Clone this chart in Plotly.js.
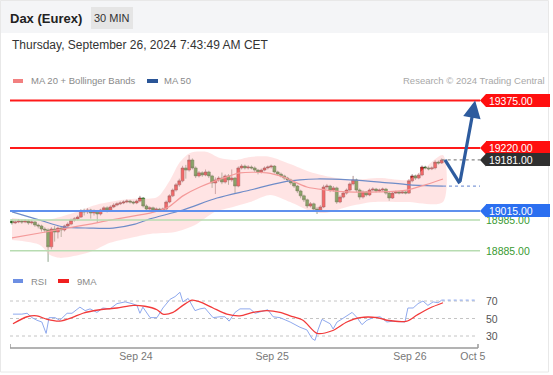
<!DOCTYPE html>
<html><head><meta charset="utf-8">
<script src="https://cdn.plot.ly/plotly-3.0.1.min.js"></script>
<style>html,body{margin:0;padding:0;background:#fff;overflow:hidden}#chart{width:553px;height:375px}</style>
</head><body><div id="chart"></div>
<script>
// ---------- DATA ----------
const openP = [18982,18976,18979,18982,18979,18982,18976,18979,18969,18966,
 18956,18953,18898,18956,18946,18959,18953,18966,18972,18985,
 18989,18995,19015,19012,19018,19008,19015,19005,19018,19025,
 19018,19028,19034,19038,19041,19044,19047,19044,19041,19047,
 19057,19031,19021,19025,19018,19021,19018,19021,19044,19064,
 19083,19100,19113,19155,19148,19181,19155,19129,19139,19132,
 19142,19129,19106,19116,19122,19109,19129,19116,19122,19096,
 19155,19161,19155,19158,19155,19148,19142,19148,19155,19158,
 19161,19142,19135,19129,19122,19116,19106,19096,19080,19064,
 19051,19031,19038,19021,19018,19028,19093,19096,19083,19090,
 19044,19060,19073,19083,19103,19116,19083,19060,19077,19067,
 19083,19086,19080,19083,19086,19073,19057,19073,19077,19073,
 19077,19073,19113,19129,19122,19132,19158,19155,19152,19155,
 19174,19171];
const closeP = [18976,18979,18982,18979,18982,18976,18979,18969,18966,18956,
 18953,18898,18956,18946,18959,18953,18966,18972,18985,18989,
 18995,19015,19012,19018,19008,19015,19005,19018,19025,19018,
 19028,19034,19038,19041,19044,19047,19044,19041,19047,19057,
 19031,19021,19025,19018,19021,19018,19021,19044,19064,19083,
 19100,19113,19155,19148,19181,19155,19129,19139,19132,19142,
 19129,19106,19116,19122,19109,19129,19116,19122,19096,19155,
 19161,19155,19158,19155,19148,19142,19148,19155,19158,19161,
 19142,19135,19129,19122,19116,19106,19096,19080,19064,19051,
 19031,19038,19021,19018,19028,19093,19096,19083,19090,19044,
 19060,19073,19083,19103,19116,19083,19060,19077,19067,19083,
 19086,19080,19083,19086,19073,19057,19073,19077,19073,19077,
 19073,19113,19129,19122,19132,19158,19155,19152,19155,19174,
 19171,19181];
const highP = [18988,18985,18988,18986,18987,18986,18984,18982,18974,18970,
 18962,18958,18962,18966,18964,18966,18970,18978,18990,18995,
 19000,19020,19022,19024,19022,19020,19018,19022,19030,19030,
 19033,19040,19043,19046,19049,19052,19051,19048,19052,19064,
 19060,19036,19030,19029,19026,19025,19026,19049,19069,19088,
 19106,19120,19162,19165,19197,19186,19160,19145,19144,19150,
 19146,19133,19124,19128,19140,19134,19135,19150,19126,19160,
 19167,19166,19164,19163,19160,19152,19153,19160,19163,19166,
 19164,19146,19140,19133,19126,19120,19110,19100,19084,19068,
 19055,19044,19042,19028,19034,19100,19103,19100,19096,19094,
 19066,19078,19088,19108,19129,19120,19088,19082,19080,19088,
 19092,19090,19088,19091,19090,19077,19078,19081,19080,19081,
 19080,19118,19135,19133,19138,19163,19162,19160,19160,19180,
 19179,19186];
const lowP = [18970,18972,18975,18973,18975,18970,18971,18963,18958,18948,
 18944,18849,18890,18915,18925,18930,18948,18960,18968,18980,
 18984,18992,19000,19005,18990,19000,18976,19000,19012,19010,
 19014,19024,19030,19034,19037,19040,19039,19036,19037,19043,
 19026,19016,19015,19013,19014,19013,19014,19018,19040,19060,
 19078,19094,19108,19120,19143,19150,19122,19124,19126,19128,
 19122,19090,19070,19110,19102,19104,19100,19110,19073,19092,
 19150,19150,19150,19150,19142,19134,19137,19144,19150,19153,
 19137,19130,19124,19116,19110,19100,19090,19073,19056,19044,
 19024,19026,19012,19005,19012,19024,19086,19076,19078,19038,
 19040,19056,19068,19078,19098,19076,19052,19055,19062,19063,
 19079,19075,19076,19079,19068,19048,19054,19070,19069,19070,
 19069,19070,19108,19116,19118,19128,19150,19147,19148,19150,
 19166,19168];

const upperIdx = [0,10.1,17.7,26.8,36,43.6,45.1,48.2,51.2,54.3,59.5,63.4,68,72.6,78.7,84.8,90.9,97,103,112.2,120.4,124.4,131.4];
const upperVal = [18992,18985,19005,19038,19054,19057,19067,19116,19174,19204,19207,19187,19181,19191,19191,19168,19142,19126,19116,19122,19116,19142,19197];
const lowerIdx = [0,8.5,11.6,14.6,23.8,29.9,36,42.1,49.7,55.8,61.9,67.4,72.6,78.7,84.8,90.9,95.4,102.1,110.1,120.4,131.4];
const lowerVal = [18920,18904,18871,18862,18881,18911,18927,18940,18946,18969,19012,19028,19044,19067,19044,19015,19008,19028,19044,19044,19044];
const ma20Idx = [0,8.5,16.8,23.8,29.9,39,42.1,47.3,52.1,57.3,65.5,69.5,77.7,82.6,89.9,96,102.1,112.2,120.4,126,131.4];
const ma20Val = [18927,18943,18959,18972,18985,19002,19008,19025,19064,19093,19126,19139,19139,19126,19093,19083,19077,19077,19083,19100,19119];
const ma50Idx = [0,8.5,15.5,23.8,30.8,37.5,42.1,52.1,62.5,72.6,82.6,87.8,93,103,112.2,121.3,131.4];
const ma50Val = [19012,18985,18963,18959,18959,18972,18989,19018,19057,19083,19109,19116,19119,19116,19109,19100,19096];

const rsiIdx = [0.3,3,4.6,6.1,7.6,9.1,10.4,11.3,13.1,14.6,16.8,18.3,20.7,22.3,23.8,25.9,27.7,29.9,32,34.5,36.6,38.1,39,39.9,42.1,44.2,46,48.2,49.7,51.2,52.1,53.7,55.8,57.3,58.8,61.3,63.4,64.9,66.2,68,69.5,72.6,74.1,76.5,78,79.6,81.7,84.8,87.8,89.9,91.5,92.4,93.3,94.5,96,97,97.9,99.1,100,101.5,102.4,103.7,105.2,106.7,108.2,110.1,112.2,114.3,116.2,118.3,119.8,120.7,122.3,123.8,125.3,126.8,128.4,129.9,131];
const rsiVal = [55,55,56,51,48,46,33,51,51,48,56,56,63,59,61,57,62,61,67,69,67,65,56,63,51,51,62,72,75,80,69,73,59,61,62,51,52,52,47,57,61,61,56,59,60,52,51,46,40,37,27,25,37,49,46,44,38,46,48,52,54,57,51,43,48,51,52,46,47,46,46,62,62,67,70,65,69,68,71];
const ma9Idx = [0.3,4.6,7.6,10.7,14.6,18.3,21.6,26.8,32,36.9,40.5,44.2,46,49.1,52.1,54.9,57.3,61.3,65.5,69.5,73.5,77.7,81.7,84.8,88.7,93,97.6,102.1,106.1,111.3,114.3,120.4,123.5,127.4,131.4];
const ma9Val = [44,52,53,49,47,51,56,60,62,65,64,60,55,57,65,71,69,62,55,53,57,59,57,53,48,33,36,46,51,51,48,47,54,62,68];

const projIdx = [132, 136.5, 141.2];
const projVal = [19181, 19105, 19375];

const tickPos = [37.8, 79.3, 121.3, 140.5];
const tickLabels = ['Sep 24', 'Sep 25', 'Sep 26', 'Oct 5'];

const resistLevels = [19375, 19220];
const supportLevel = 19015;
const pivotLevels = [18985, 18885];
const lastPrice = 19181;
const rsiGrid = [70, 50, 30];

// ---------- LAYOUT HELPERS ----------
const W = 553, H = 375;
const FONT = 'Liberation Sans, Arial, sans-serif';
const X0PX = 12, BARPX = 3.28;
const ix = px => (px - X0PX) / BARPX;     // pixel -> bar index
const fx = px => px / W;                  // pixel -> paper x
const fy = py => 1 - py / H;              // pixel -> paper y
const barIdx = closeP.map((_, i) => i);
const lastIdx = barIdx[barIdx.length - 1];

const traces = [];
traces.push({
  x: upperIdx.concat(lowerIdx.slice().reverse()),
  y: upperVal.concat(lowerVal.slice().reverse()),
  type: 'scatter', mode: 'lines', fill: 'toself',
  fillcolor: 'rgba(255,190,190,0.42)', line: {width: 0, shape: 'spline', smoothing: 0.8},
  xaxis: 'x', yaxis: 'y', hoverinfo: 'skip'
});
traces.push({x: ma50Idx, y: ma50Val, type: 'scatter', mode: 'lines',
  line: {color: '#6f8cc8', width: 1.2, shape: 'spline', smoothing: 0.8}, xaxis: 'x', yaxis: 'y'});
traces.push({x: ma20Idx, y: ma20Val, type: 'scatter', mode: 'lines',
  line: {color: '#f49a9a', width: 1.2, shape: 'spline', smoothing: 0.8}, xaxis: 'x', yaxis: 'y'});
traces.push({x: [ma50Idx[ma50Idx.length-1], ix(480)], y: [ma50Val[ma50Val.length-1], ma50Val[ma50Val.length-1]],
  type: 'scatter', mode: 'lines', line: {color: '#7f9ad8', width: 1.2, dash: 'dot'}, xaxis: 'x', yaxis: 'y'});
traces.push({x: [lastIdx, ix(480)], y: [lastPrice, lastPrice],
  type: 'scatter', mode: 'lines', line: {color: '#888', width: 1.2, dash: 'dot'}, xaxis: 'x', yaxis: 'y'});
traces.push({
  type: 'candlestick', x: barIdx, open: openP, high: highP, low: lowP, close: closeP,
  increasing: {line: {color: '#5a2222', width: 0.5}, fillcolor: '#ec2a2a'},
  decreasing: {line: {color: '#1f4a1a', width: 0.5}, fillcolor: '#36922b'},
  whiskerwidth: 0, xaxis: 'x', yaxis: 'y', hoverinfo: 'skip'
});
traces.push({x: projIdx.slice(0, 2), y: projVal.slice(0, 2), type: 'scatter', mode: 'lines',
  line: {color: '#2d5b9e', width: 3.2}, xaxis: 'x', yaxis: 'y'});
traces.push({x: rsiIdx, y: rsiVal, type: 'scatter', mode: 'lines',
  line: {color: '#8fa9ee', width: 1}, xaxis: 'x', yaxis: 'y2'});
traces.push({x: [rsiIdx[rsiIdx.length-1], ix(476)], y: [rsiVal[rsiVal.length-1], rsiVal[rsiVal.length-1]],
  type: 'scatter', mode: 'lines', line: {color: '#9fb6f0', width: 1.2, dash: 'dot'}, xaxis: 'x', yaxis: 'y2'});
traces.push({x: ma9Idx, y: ma9Val, type: 'scatter', mode: 'lines',
  line: {color: '#f23a3a', width: 1.3, shape: 'spline', smoothing: 0.8}, xaxis: 'x', yaxis: 'y2'});

const shapes = [];
const annotations = [];
shapes.push({type: 'rect', xref: 'paper', yref: 'paper', x0: 0, x1: fx(548), y0: fy(33), y1: fy(0),
  fillcolor: '#f4f5f7', line: {width: 0}, layer: 'below'});
shapes.push({type: 'rect', xref: 'paper', yref: 'paper', x0: fx(91), x1: fx(133), y0: fy(29), y1: fy(7),
  fillcolor: '#e5e5e5', line: {width: 0}, layer: 'below'});
shapes.push({type: 'rect', xref: 'paper', yref: 'paper', x0: fx(0.5), x1: fx(548.5), y0: fy(372), y1: fy(0.5),
  fillcolor: 'rgba(0,0,0,0)', line: {width: 1, color: '#e8e8e8'}, layer: 'below'});
[[13, 23, '#f28080', 81], [147, 158, '#2a5597', 81], [13, 23, '#6d8fe3', 281], [58, 69, '#f02020', 281]].forEach(m => {
  shapes.push({type: 'rect', xref: 'paper', yref: 'paper', x0: fx(m[0]), x1: fx(m[1]), y0: fy(m[3] + 2), y1: fy(m[3] - 2),
    fillcolor: m[2], line: {width: 0}});
});
const txt = (text, px, py, size, color, anchor) => annotations.push({
  text, xref: 'paper', yref: 'paper', x: fx(px), y: fy(py), xanchor: anchor || 'left', yanchor: 'middle',
  showarrow: false, font: {family: FONT, size, color}, borderpad: 0, borderwidth: 0});
txt('<b>Dax (Eurex)</b>', 10, 18, 13, '#222');
txt('30 MIN', 112, 18, 11, '#333', 'center');
txt('Thursday, September 26, 2024 7:43:49 AM CET', 12, 45, 12, '#333');
txt('MA 20 + Bollinger Bands', 31, 81, 9.5, '#8a8a8a');
txt('MA 50', 164, 81, 9.5, '#8a8a8a');
txt('Research © 2024 Trading Central', 545, 81, 9.5, '#a8a8a8', 'right');
txt('RSI', 31, 281, 9.5, '#8a8a8a');
txt('9MA', 77, 281, 9.5, '#8a8a8a');

const hline = (v, color, width) => shapes.push({type: 'line', xref: 'x', yref: 'y', x0: ix(10), x1: ix(480),
  y0: v, y1: v, line: {color, width}});
resistLevels.forEach(v => hline(v, '#ff1a1a', 2));
hline(supportLevel, '#5f90ee', 2);
pivotLevels.forEach(v => hline(v, '#b7dcb1', 1.5));

pivotLevels.forEach(v => annotations.push({text: v.toFixed(2), xref: 'x', yref: 'y', x: ix(486), y: v,
  xanchor: 'left', yanchor: 'middle', showarrow: false, font: {family: FONT, size: 10.5, color: '#3a9a32'},
  borderpad: 0, borderwidth: 0}));
const box = (v, color) => {
  shapes.push({type: 'path', xref: 'x', yref: 'y', xsizemode: 'pixel', ysizemode: 'pixel',
    xanchor: ix(480), yanchor: v, path: 'M0,0 L6,6.5 L6,-6.5 Z', fillcolor: color, line: {width: 0}});
  annotations.push({text: ' ' + v.toFixed(2), xref: 'x', yref: 'y', x: ix(485.5), y: v, xanchor: 'left', yanchor: 'middle',
    width: 64, height: 13, align: 'left', valign: 'middle', bgcolor: color,
    showarrow: false, font: {family: FONT, size: 10.5, color: '#fff'}, borderpad: 0, borderwidth: 0});
};
resistLevels.forEach(v => box(v, '#ff0f0f'));
box(lastPrice, '#2f2f2f');
box(supportLevel, '#2b6ff0');

annotations.push({x: projIdx[2], y: projVal[2], ax: projIdx[1], ay: projVal[1], xref: 'x', yref: 'y',
  axref: 'x', ayref: 'y', text: '', showarrow: true, arrowhead: 2, arrowsize: 1.1, arrowwidth: 3.2,
  arrowcolor: '#2d5b9e', standoff: 0});

rsiGrid.forEach(v => {
  shapes.push({type: 'line', xref: 'x', yref: 'y2', x0: ix(10), x1: ix(477), y0: v, y1: v,
    line: {color: '#c4c4c4', width: 1, dash: 'dot'}, layer: 'below'});
  annotations.push({text: String(v), xref: 'x', yref: 'y2', x: ix(486), y: v, xanchor: 'left', yanchor: 'middle',
    showarrow: false, font: {family: FONT, size: 10.5, color: '#555'}, borderpad: 0, borderwidth: 0});
});
shapes.push({type: 'line', xref: 'x', yref: 'paper', x0: ix(10), x1: ix(478), y0: fy(348), y1: fy(348),
  line: {color: '#9a9a9a', width: 1.5}});
[10, 478].forEach(p => shapes.push({type: 'line', xref: 'x', yref: 'paper', x0: ix(p), x1: ix(p),
  y0: fy(348), y1: fy(344), line: {color: '#9a9a9a', width: 1.5}}));

const layout = {
  width: W, height: H, margin: {l: 0, r: 0, t: 0, b: 0, pad: 0},
  paper_bgcolor: '#fff', plot_bgcolor: 'rgba(0,0,0,0)', showlegend: false,
  font: {family: FONT}, boxgap: 0.05, boxgroupgap: 0.05,
  xaxis: {domain: [fx(10), 1], range: [ix(10), ix(553)], anchor: 'y2', showgrid: false, zeroline: false,
    showline: false, ticks: '', tickvals: tickPos, ticktext: tickLabels,
    tickfont: {family: FONT, size: 10.5, color: '#777'}, rangeslider: {visible: false}, fixedrange: true},
  yaxis: {domain: [fy(268), fy(92)], range: [18829, 19402.4], visible: false, fixedrange: true},
  yaxis2: {domain: [fy(348), fy(288)], range: [16.29, 84.86], visible: false, fixedrange: true},
  shapes, annotations, hovermode: false
};
Plotly.newPlot('chart', traces, layout, {staticPlot: true, displayModeBar: false});
</script></body></html>
